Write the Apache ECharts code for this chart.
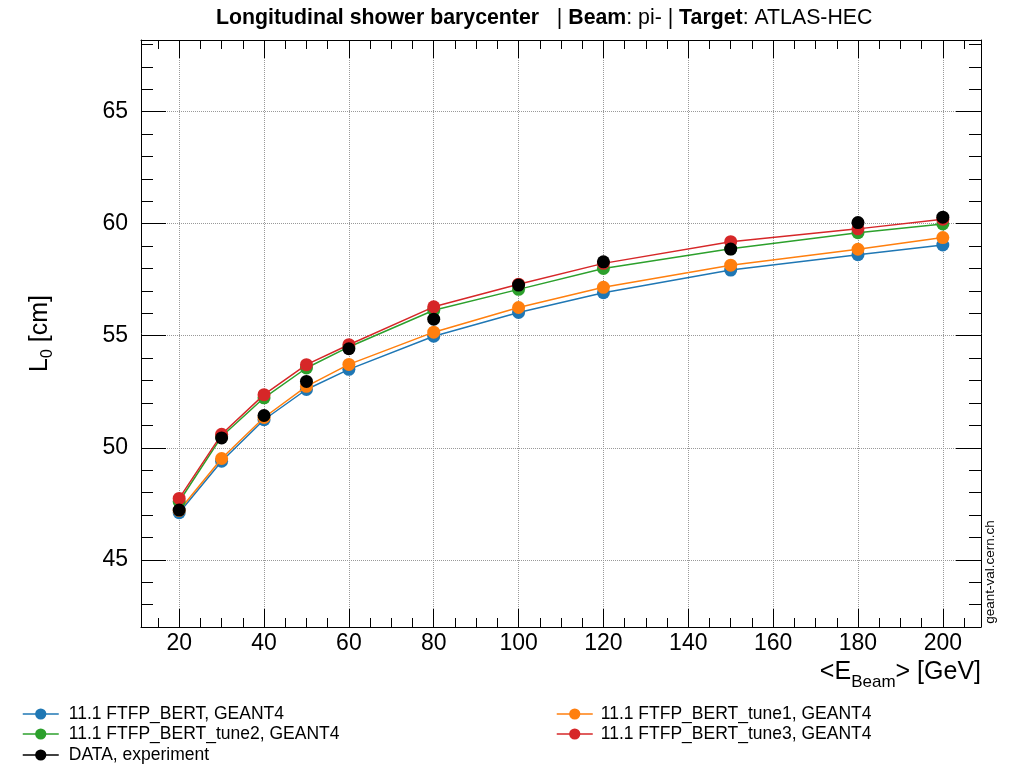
<!DOCTYPE html>
<html>
<head>
<meta charset="utf-8">
<title>Longitudinal shower barycenter</title>
<script src="https://cdn.jsdelivr.net/npm/echarts@6/dist/echarts.min.js"></script>
<style>
  html, body { margin: 0; padding: 0; background: #fff; }
  #chart { width: 1012px; height: 771px; }
</style>
</head>
<body>
<div id="chart"></div>
<script>
// beam energies [GeV]
var energies = [20, 30, 40, 50, 60, 80, 100, 120, 150, 180, 200];

// L0 [cm] per physics list
var ftfpBert      = [47.10, 49.40, 51.25, 52.60, 53.50, 54.98, 56.04, 56.92, 57.93, 58.62, 59.05];
var ftfpBertTune1 = [47.20, 49.52, 51.35, 52.74, 53.72, 55.16, 56.26, 57.16, 58.15, 58.86, 59.38];
var ftfpBertTune2 = [47.60, 50.50, 52.23, 53.56, 54.50, 56.14, 57.07, 58.00, 58.88, 59.60, 59.99];
var ftfpBertTune3 = [47.74, 50.60, 52.37, 53.71, 54.60, 56.29, 57.30, 58.23, 59.20, 59.77, 60.20];
var dataExp       = [47.22, 50.44, 51.44, 52.96, 54.42, 55.74, 57.26, 58.30, 58.87, 60.05, 60.29];

// tick positions
var xMajorTicks = [20, 40, 60, 80, 100, 120, 140, 160, 180, 200];
var xMinorTicks = [15, 25, 30, 35, 45, 50, 55, 65, 70, 75, 85, 90, 95, 105, 110, 115,
                   125, 130, 135, 145, 150, 155, 165, 170, 175, 185, 190, 195, 205];
var yMajorTicks = [45, 50, 55, 60, 65];
var yMinorTicks = [43, 44, 46, 47, 48, 49, 51, 52, 53, 54, 56, 57, 58, 59, 61, 62, 63, 64, 66, 67, 68];

var seriesNames = [
    '11.1 FTFP_BERT, GEANT4',
    '11.1 FTFP_BERT_tune1, GEANT4',
    '11.1 FTFP_BERT_tune2, GEANT4',
    '11.1 FTFP_BERT_tune3, GEANT4',
    'DATA, experiment'
];
var seriesValues = [ftfpBert, ftfpBertTune1, ftfpBertTune2, ftfpBertTune3, dataExp];
var seriesColors = ['#1f77b4', '#ff7f0e', '#2ca02c', '#d62728', '#000000'];
var seriesLines  = [true, true, true, true, false];   // data points are not joined

// legend slots: [left, top]
var legendSlots = [[22, 705], [556, 705], [22, 725], [556, 725], [22, 746]];

var FONT = '"Liberation Sans", Arial, Helvetica, sans-serif';

function pairs(xs, ys) {
    return xs.map(function (x, i) { return [x, ys[i]]; });
}

// one axis that only draws a set of inward ticks
function tickAxis(kind, position, values, len, extra) {
    var ax = {
        type: 'value',
        position: position,
        min: kind === 'x' ? 11 : 42,
        max: kind === 'x' ? 209 : 68.2,
        axisLine: { show: false },
        axisTick: {
            show: true, inside: true, length: len, customValues: values,
            lineStyle: { color: '#000', width: 1 }
        },
        axisLabel: { show: false },
        splitLine: { show: false }
    };
    return Object.assign(ax, extra || {});
}

var chart = echarts.init(document.getElementById('chart'), null, { renderer: 'canvas' });

var series = seriesNames.map(function (name, i) {
    return {
        name: name,
        type: 'line',
        xAxisIndex: 0,
        yAxisIndex: 0,
        data: pairs(energies, seriesValues[i]),
        symbol: 'circle',
        symbolSize: 13,
        color: seriesColors[i],
        lineStyle: { width: 1.5, color: seriesColors[i], opacity: seriesLines[i] ? 1 : 0 },
        itemStyle: { color: seriesColors[i] },
        z: 2 + i,
        animation: false
    };
});

var legends = seriesNames.map(function (name, i) {
    return {
        left: legendSlots[i][0],
        top: legendSlots[i][1],
        padding: 0,
        itemWidth: 36, itemHeight: 14,
        data: [{ name: name, lineStyle: { width: 1.5, color: seriesColors[i], opacity: 1 } }],
        textStyle: { fontSize: 17.5, color: '#000', fontFamily: FONT,
                     padding: [0, 0, 0, legendSlots[i][0] > 300 ? 3 : 5] }
    };
});

var option = {
    backgroundColor: '#fff',
    animation: false,
    textStyle: { fontFamily: FONT },
    title: {
        left: 211,
        top: 3,
        text: '{b|Longitudinal shower barycenter}{n|   | }{b|Beam}{n|: pi- | }{b|Target}{n|: ATLAS-HEC}',
        textStyle: {
            rich: {
                b: { fontSize: 21.3, fontWeight: 'bold', color: '#000', fontFamily: FONT },
                n: { fontSize: 21.3, fontWeight: 'normal', color: '#000', fontFamily: FONT }
            }
        }
    },
    grid: { left: 141, right: 31, top: 40, bottom: 144 },
    legend: legends,
    xAxis: [
        {
            type: 'value',
            position: 'bottom',
            min: 11, max: 209,
            axisLine: { show: true, onZero: false, lineStyle: { color: '#000', width: 1 } },
            axisTick: { show: true, inside: true, length: 18, customValues: xMajorTicks,
                        lineStyle: { color: '#000', width: 1 } },
            axisLabel: { customValues: xMajorTicks, fontSize: 23, color: '#000', margin: 5, fontFamily: FONT },
            splitLine: { show: true, lineStyle: { color: '#999', type: 'dotted', width: 1 } },
            name: '{n|<E}{s|Beam}{n|> [GeV]}',
            nameLocation: 'end',
            nameGap: 0,
            nameTextStyle: {
                align: 'right', verticalAlign: 'top', padding: [27, 0, 0, 0],
                rich: {
                    n: { fontSize: 25, color: '#000', fontFamily: FONT },
                    s: { fontSize: 17, color: '#000', fontFamily: FONT, padding: [20, 0, 0, 0] }
                }
            }
        },
        tickAxis('x', 'bottom', xMinorTicks, 9),
        tickAxis('x', 'top', xMajorTicks, 18, {
            axisLine: { show: true, onZero: false, lineStyle: { color: '#000', width: 1 } }
        }),
        tickAxis('x', 'top', xMinorTicks, 9)
    ],
    yAxis: [
        {
            type: 'value',
            position: 'left',
            min: 42, max: 68.2,
            axisLine: { show: true, onZero: false, lineStyle: { color: '#000', width: 1 } },
            axisTick: { show: true, inside: true, length: 25, customValues: yMajorTicks,
                        lineStyle: { color: '#000', width: 1 } },
            axisLabel: { customValues: yMajorTicks, fontSize: 23, color: '#000', margin: 13, fontFamily: FONT },
            splitLine: { show: true, lineStyle: { color: '#999', type: 'dotted', width: 1 } },
            name: '{n|L}{s|0}{n| [cm]}',
            nameLocation: 'middle',
            nameGap: 85,
            nameTextStyle: {
                rich: {
                    n: { fontSize: 25, color: '#000', fontFamily: FONT },
                    s: { fontSize: 16, color: '#000', fontFamily: FONT, padding: [16, 0, 0, 0] }
                }
            }
        },
        tickAxis('y', 'left', yMinorTicks, 12),
        tickAxis('y', 'right', yMajorTicks, 25, {
            axisLine: { show: true, onZero: false, lineStyle: { color: '#000', width: 1 } }
        }),
        tickAxis('y', 'right', yMinorTicks, 12)
    ],
    graphic: [
        {
            type: 'text',
            x: 990, y: 572,
            rotation: Math.PI / 2,
            style: {
                text: 'geant-val.cern.ch',
                font: '13.5px ' + FONT,
                fill: '#000',
                align: 'center',
                verticalAlign: 'middle'
            }
        }
    ],
    series: series
};

chart.setOption(option);
</script>
</body>
</html>
